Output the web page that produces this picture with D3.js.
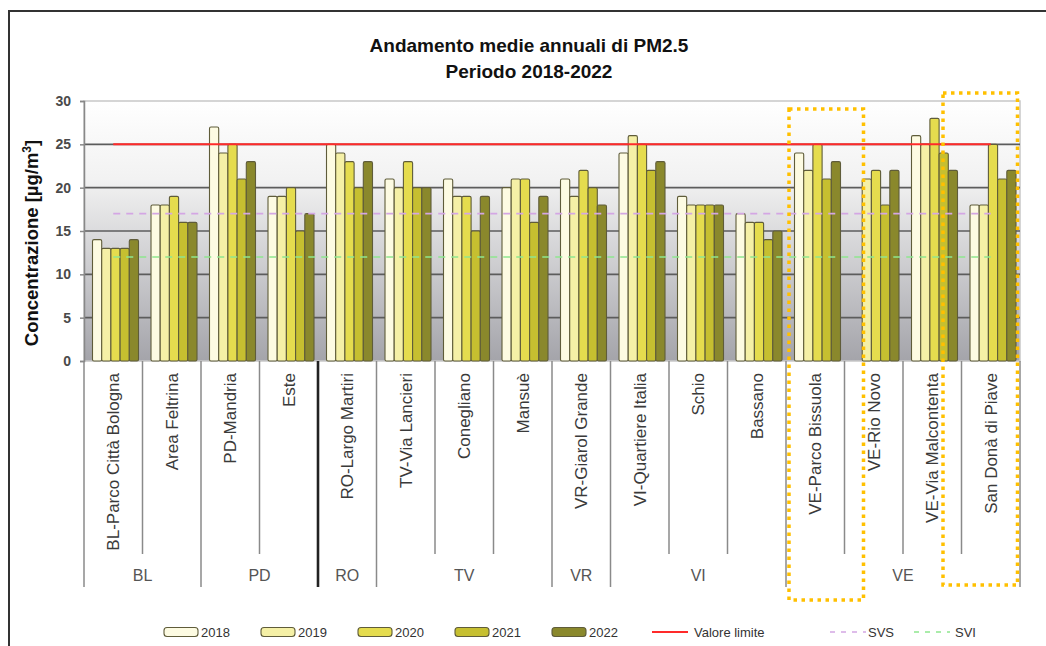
<!DOCTYPE html>
<html lang="it">
<head>
<meta charset="utf-8">
<script src="https://cdn.jsdelivr.net/npm/d3@7/dist/d3.min.js"></script>
<style>
  body { margin: 0; background: #fff; }
  text { font-family: Arial, "Liberation Sans", sans-serif; }
</style>
</head>
<body>
<script>
// stazioni e province
var stations = ["BL-Parco Città Bologna", "Area Feltrina", "PD-Mandria", "Este", "RO-Largo Martiri",
  "TV-Via Lancieri", "Conegliano", "Mansuè", "VR-Giarol Grande", "VI-Quartiere Italia", "Schio",
  "Bassano", "VE-Parco Bissuola", "VE-Rio Novo", "VE-Via Malcontenta", "San Donà di Piave"];
var provinces = ["BL", "PD", "RO", "TV", "VR", "VI", "VE"];
var provinceSizes = [2, 2, 1, 3, 1, 3, 4];
var years = ["2018", "2019", "2020", "2021", "2022"];

// medie annuali (µg/m³)
var v2018 = [14, 18, 27, 19, 25, 21, 21, 20, 21, 24, 19, 17, 24, null, 26, 18];
var v2019 = [13, 18, 24, 19, 24, 20, 19, 21, 19, 26, 18, 16, 22, 21, 25, 18];
var v2020 = [13, 19, 25, 20, 23, 23, 19, 21, 22, 25, 18, 16, 25, 22, 28, 25];
var v2021 = [13, 16, 21, 15, 20, 20, 15, 16, 20, 22, 18, 14, 21, 18, 24, 21];
var v2022 = [14, 16, 23, 17, 23, 20, 19, 19, 18, 23, 18, 15, 23, 22, 22, 22];
var series = [v2018, v2019, v2020, v2021, v2022];

var valoreLimite = 25, svs = 17, svi = 12;
var yTicks = [0, 5, 10, 15, 20, 25, 30];
var highlighted = ["VE-Parco Bissuola", "San Donà di Piave"];

var colors = ["#fdfbe2", "#f5f0a6", "#e5dc4e", "#c6bf30", "#8a882c"];

var W = 1046, H = 646;
var plot = {left: 84, top: 101, right: 1020, bottom: 361};

var svg = d3.select("body").append("svg")
  .attr("width", W).attr("height", H);

// cornice esterna
svg.append("path")
  .attr("d", "M9," + H + " V11 H" + W)
  .attr("fill", "none").attr("stroke", "#333").attr("stroke-width", 2);

var defs = svg.append("defs");
var grad = defs.append("linearGradient").attr("id", "bg")
  .attr("x1", 0).attr("y1", 0).attr("x2", 0).attr("y2", 1);
grad.append("stop").attr("offset", "0%").attr("stop-color", "#ffffff");
grad.append("stop").attr("offset", "30%").attr("stop-color", "#f2f2f2");
grad.append("stop").attr("offset", "100%").attr("stop-color", "#a4a4aa");

var x0 = d3.scaleBand().domain(stations).range([plot.left, plot.right]).padding(0);
var x1 = d3.scaleBand().domain(years).range([8.5, x0.bandwidth() - 4]).padding(0);
var y = d3.scaleLinear().domain([0, 30]).range([plot.bottom, plot.top]);

// titolo
svg.append("text").attr("x", 529).attr("y", 52).attr("text-anchor", "middle")
  .style("font-size", "19px").style("font-weight", "bold").attr("fill", "#111")
  .text("Andamento medie annuali di PM2.5");
svg.append("text").attr("x", 529).attr("y", 78).attr("text-anchor", "middle")
  .style("font-size", "19px").style("font-weight", "bold").attr("fill", "#111")
  .text("Periodo 2018-2022");

// area del grafico
svg.append("rect")
  .attr("x", plot.left).attr("y", plot.top)
  .attr("width", plot.right - plot.left).attr("height", plot.bottom - plot.top)
  .attr("fill", "url(#bg)").attr("stroke", "#c8c8c8").attr("stroke-width", 1.5);

// griglia
svg.append("g").selectAll("line")
  .data(yTicks.filter(function(d) { return d > 0 && d < 30; }))
  .enter().append("line")
  .attr("x1", plot.left).attr("x2", plot.right)
  .attr("y1", function(d) { return y(d); }).attr("y2", function(d) { return y(d); })
  .attr("stroke", "#5c5c5c").attr("stroke-width", 1.6);

// asse y
var yAxis = d3.axisLeft(y).tickValues(yTicks).tickSize(4).tickPadding(9);
var gy = svg.append("g").attr("transform", "translate(" + plot.left + ",0)").call(yAxis);
gy.select(".domain").attr("stroke", "#888").attr("stroke-width", 1.5);
gy.selectAll(".tick line").attr("stroke", "#888").attr("stroke-width", 1.5);
gy.selectAll(".tick text").style("font-size", "14px").style("font-weight", "bold")
  .attr("fill", "#4a4a4a").style("font-family", "Arial, 'Liberation Sans', sans-serif");

svg.append("text")
  .attr("transform", "translate(38," + ((plot.top + plot.bottom) / 2 + 12) + ") rotate(-90)")
  .attr("text-anchor", "middle")
  .style("font-size", "18.5px").style("font-weight", "bold").attr("fill", "#111")
  .html("Concentrazione [µg/m<tspan dy='-7' style='font-size:12px'>3</tspan><tspan dy='7'>]</tspan>");

// barre
var gBars = svg.append("g");
series.forEach(function(vals, si) {
  gBars.append("g").selectAll("rect")
    .data(vals.map(function(v, i) { return {st: stations[i], v: v}; })
      .filter(function(d) { return d.v != null; }))
    .enter().append("rect")
    .attr("x", function(d) { return x0(d.st) + x1(years[si]); })
    .attr("y", function(d) { return y(d.v); })
    .attr("width", x1.bandwidth())
    .attr("height", function(d) { return y(0) - y(d.v); })
    .attr("rx", 1.5)
    .attr("fill", colors[si])
    .attr("stroke", "#5f5c3a").attr("stroke-width", 1.1);
});

// linee di riferimento
var xFirst = x0(stations[0]) + x0.bandwidth() / 2;
var xLast = x0(stations[stations.length - 1]) + x0.bandwidth() / 2;
var refLines = [
  {v: svi, color: "#8ee68e", dash: "7,6", w: 1.6},
  {v: svs, color: "#d4a6e4", dash: "7,6", w: 1.6},
  {v: valoreLimite, color: "#ff2a2a", dash: null, w: 2}
];
svg.append("g").selectAll("line").data(refLines).enter().append("line")
  .attr("x1", xFirst).attr("x2", xLast)
  .attr("y1", function(d) { return y(d.v); }).attr("y2", function(d) { return y(d.v); })
  .attr("stroke", function(d) { return d.color; })
  .attr("stroke-width", function(d) { return d.w; })
  .attr("stroke-dasharray", function(d) { return d.dash; });

// asse categorie (due livelli)
var gx = svg.append("g");
var bounds = [];
var idx = 0;
provinces.forEach(function(p, i) {
  bounds.push(idx);
  idx += provinceSizes[i];
});
bounds.push(idx);

d3.range(stations.length + 1).forEach(function(i) {
  var xx = i < stations.length ? x0(stations[i]) : plot.right;
  var isGroup = bounds.indexOf(i) >= 0;
  gx.append("line")
    .attr("x1", xx).attr("x2", xx)
    .attr("y1", plot.bottom).attr("y2", isGroup ? 587 : 554)
    .attr("stroke", i == 4 ? "#222" : "#8a8a8a")
    .attr("stroke-width", i == 4 ? 2.6 : 1.5);
});

gx.selectAll("text.st").data(stations).enter().append("text")
  .attr("class", "st")
  .attr("transform", function(d) {
    return "translate(" + (x0(d) + x0.bandwidth() / 2) + ",373) rotate(-90)";
  })
  .attr("text-anchor", "end").attr("dy", "0.35em")
  .style("font-size", "17px").attr("fill", "#3a3a3a")
  .text(function(d) { return d; });

gx.selectAll("text.pr").data(provinces).enter().append("text")
  .attr("class", "pr")
  .attr("x", function(d, i) {
    var a = x0(stations[bounds[i]]);
    var b = bounds[i + 1] < stations.length ? x0(stations[bounds[i + 1]]) : plot.right;
    return (a + b) / 2;
  })
  .attr("y", 581).attr("text-anchor", "middle")
  .style("font-size", "16px").attr("fill", "#555")
  .text(function(d) { return d; });

// riquadri evidenziati
var boxes = [
  {st: highlighted[0], dx: 3, w: x0.bandwidth() + 16, top: 109, bottom: 600},
  {st: highlighted[1], dx: -18.5, w: x0.bandwidth() + 16, top: 93, bottom: 585}
];
svg.append("g").selectAll("rect").data(boxes).enter().append("rect")
  .attr("x", function(d) { return x0(d.st) + d.dx; })
  .attr("y", function(d) { return d.top; })
  .attr("width", function(d) { return d.w; })
  .attr("height", function(d) { return d.bottom - d.top; })
  .attr("fill", "none").attr("stroke", "#ffc000")
  .attr("stroke-width", 3.5).attr("stroke-dasharray", "3.5,4.5");

// legenda
var legY = 632;
var legBoxX = [164, 261, 358, 455, 552];
var lg = svg.append("g");
years.forEach(function(yr, i) {
  lg.append("rect").attr("x", legBoxX[i]).attr("y", legY - 4.5)
    .attr("width", 34).attr("height", 9).attr("rx", 3)
    .attr("fill", colors[i]).attr("stroke", "#5f5c3a").attr("stroke-width", 1.1);
  lg.append("text").attr("x", legBoxX[i] + 37).attr("y", legY).attr("dy", "0.35em")
    .style("font-size", "13px").attr("fill", "#333").text(yr);
});
var legLines = [
  {label: "Valore limite", x: 652, tx: 694, color: "#ff2a2a", dash: null, w: 2},
  {label: "SVS", x: 830, tx: 868, color: "#d4a6e4", dash: "5,6", w: 1.6},
  {label: "SVI", x: 914, tx: 955, color: "#8ee68e", dash: "5,6", w: 1.6}
];
legLines.forEach(function(d) {
  lg.append("line").attr("x1", d.x).attr("x2", d.x + 36)
    .attr("y1", legY).attr("y2", legY)
    .attr("stroke", d.color).attr("stroke-width", d.w).attr("stroke-dasharray", d.dash);
  lg.append("text").attr("x", d.tx).attr("y", legY).attr("dy", "0.35em")
    .style("font-size", "13px").attr("fill", "#333").text(d.label);
});
</script>
</body>
</html>
